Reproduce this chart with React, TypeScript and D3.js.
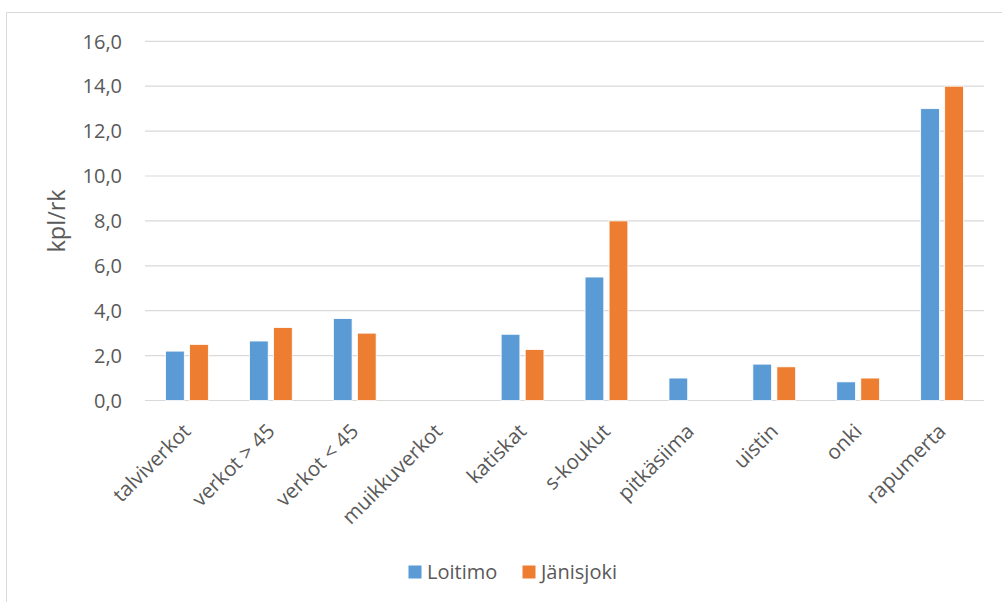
import React from "react";
import * as d3 from "d3";

const categories = [
  "talviverkot",
  "verkot > 45",
  "verkot < 45",
  "muikkuverkot",
  "katiskat",
  "s-koukut",
  "pitkäsiima",
  "uistin",
  "onki",
  "rapumerta",
];
const seriesNames = ["Loitimo", "Jänisjoki"];
const loitimo = [2.2, 2.65, 3.65, 0, 2.95, 5.5, 1.0, 1.62, 0.83, 13.0];
const janisjoki = [2.5, 3.25, 3.0, 0, 2.27, 8.0, 0, 1.5, 1.0, 14.0];
const yTicks = [0, 2, 4, 6, 8, 10, 12, 14, 16];
const colors = ["#5B9BD5", "#ED7D31"];

const W = 1002;
const H = 602;
const plot = { left: 145, right: 984, top: 41.3, bottom: 400.5 };
const font = "'Open Sans', 'Noto Sans', sans-serif";
const textColor = "#595959";
const gridColor = "#d9d9d9";

export default function App() {
  const x = d3
    .scaleBand<string>()
    .domain(categories)
    .range([plot.left, plot.right])
    .paddingInner(0.49)
    .paddingOuter(0.245);
  const sub = d3
    .scaleBand<string>()
    .domain(seriesNames)
    .range([0, x.bandwidth()])
    .paddingInner(0.22);
  const y = d3.scaleLinear().domain([0, 16]).range([plot.bottom, plot.top]);
  const fmt = (v: number) => v.toFixed(1).replace(".", ",");
  const series = [loitimo, janisjoki];

  return (
    <svg
      width={W}
      height={H}
      style={{ position: "absolute", left: 0, top: 0, background: "#fff" }}
    >
      <rect x={0} y={0} width={W} height={H} fill="#fff" />
      {/* chart frame */}
      <path
        d={`M6.5,${H + 2} V12.5 H${W + 2}`}
        fill="none"
        stroke={gridColor}
        strokeWidth={1}
      />
      {/* gridlines */}
      {yTicks.map((t) => (
        <line
          key={t}
          x1={plot.left}
          x2={plot.right}
          y1={y(t)}
          y2={y(t)}
          stroke={gridColor}
          strokeWidth={1.2}
        />
      ))}
      {/* y tick labels */}
      {yTicks.map((t) => (
        <text
          key={"l" + t}
          x={122}
          y={y(t)}
          dy="0.36em"
          textAnchor="end"
          fontFamily={font}
          fontSize={20}
          fill={textColor}
        >
          {fmt(t)}
        </text>
      ))}
      {/* y axis title */}
      <text
        transform={`translate(65,${(plot.top + plot.bottom) / 2}) rotate(-90)`}
        textAnchor="middle"
        fontFamily={font}
        fontSize={23.5}
        fill={textColor}
      >
        kpl/rk
      </text>
      {/* bars */}
      {series.map((vals, si) =>
        vals.map((v, i) =>
          v > 0 ? (
            <rect
              key={`${si}-${i}`}
              x={(x(categories[i]) as number) + (sub(seriesNames[si]) as number)}
              y={y(v)}
              width={sub.bandwidth()}
              height={y(0) - y(v)}
              fill={colors[si]}
              stroke="#fff"
              strokeWidth={0.8}
            />
          ) : null
        )
      )}
      {/* category labels */}
      {categories.map((c) => {
        const cx = (x(c) as number) + x.bandwidth() / 2;
        return (
          <text
            key={c}
            transform={`translate(${cx},${plot.bottom + 27}) rotate(-45)`}
            textAnchor="end"
            dy="0.35em"
            fontFamily={font}
            fontSize={20.5}
            fill={textColor}
          >
            {c}
          </text>
        );
      })}
      {/* legend */}
      {seriesNames.map((s, i) => {
        const lx = i === 0 ? 408.5 : 522.5;
        return (
          <g key={s}>
            <rect x={lx} y={565.5} width={13} height={13} fill={colors[i]} />
            <text
              x={lx + 18.5}
              y={579}
              fontFamily={font}
              fontSize={20}
              fill={textColor}
            >
              {s}
            </text>
          </g>
        );
      })}
    </svg>
  );
}
